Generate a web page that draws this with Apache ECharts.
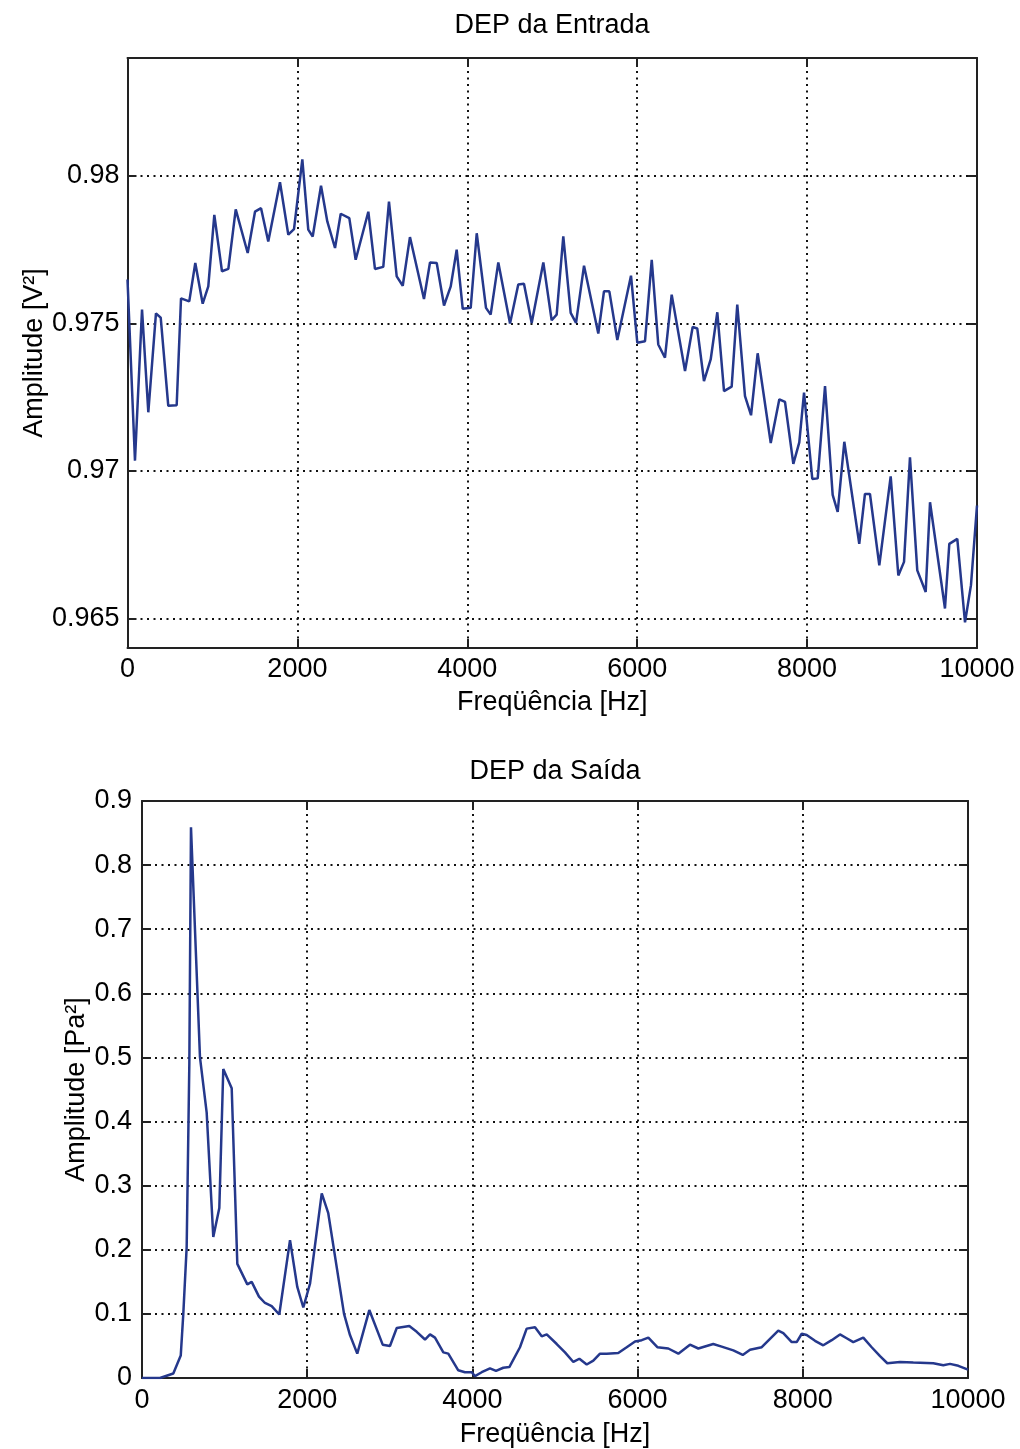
<!DOCTYPE html>
<html>
<head>
<meta charset="utf-8">
<script src="https://cdn.jsdelivr.net/npm/echarts@6/dist/echarts.min.js"></script>
<style>
html,body{margin:0;padding:0;background:#fff;}
#chart{width:1020px;height:1449px;}
</style>
</head>
<body>
<div id="chart"></div>
<script>
// ---- Data ----
const freqTicks = [0, 2000, 4000, 6000, 8000, 10000];
const inYTicks = [0.965, 0.97, 0.975, 0.98];
const outYTicks = [0, 0.1, 0.2, 0.3, 0.4, 0.5, 0.6, 0.7, 0.8, 0.9];

const inFreq = [0, 88, 171, 245, 335, 391, 480, 579, 630, 727, 798, 885, 951, 1022, 1112, 1187, 1274, 1415, 1501, 1572, 1657, 1795, 1893, 1960, 2058, 2128, 2180, 2278, 2352, 2443, 2510, 2611, 2686, 2835, 2913, 3011, 3078, 3169, 3240, 3325, 3490, 3561, 3640, 3726, 3805, 3875, 3946, 4040, 4111, 4220, 4275, 4365, 4503, 4600, 4667, 4758, 4895, 4993, 5052, 5130, 5217, 5280, 5374, 5542, 5609, 5672, 5766, 5927, 6001, 6092, 6171, 6248, 6327, 6406, 6563, 6653, 6707, 6786, 6865, 6943, 7022, 7112, 7178, 7269, 7340, 7418, 7572, 7673, 7740, 7838, 7908, 7964, 8061, 8125, 8211, 8301, 8360, 8438, 8614, 8681, 8740, 8850, 8984, 9074, 9141, 9211, 9297, 9396, 9447, 9623, 9674, 9768, 9859, 9929, 10000];
const inAmp = [0.97649, 0.97035, 0.97547, 0.97199, 0.97534, 0.9752, 0.97221, 0.97223, 0.97585, 0.97575, 0.97705, 0.97567, 0.97626, 0.97868, 0.97677, 0.97685, 0.97887, 0.97739, 0.97879, 0.97891, 0.97778, 0.97979, 0.97801, 0.9782, 0.98056, 0.97818, 0.97795, 0.97967, 0.97846, 0.97756, 0.97872, 0.97857, 0.97716, 0.97879, 0.97685, 0.97692, 0.97913, 0.9766, 0.97628, 0.97793, 0.97583, 0.97707, 0.97705, 0.97561, 0.97626, 0.9775, 0.9755, 0.97553, 0.97806, 0.97553, 0.9753, 0.97707, 0.975, 0.97632, 0.97635, 0.97502, 0.97707, 0.97511, 0.9753, 0.97795, 0.97536, 0.97502, 0.97696, 0.97466, 0.97609, 0.97609, 0.97444, 0.97662, 0.97435, 0.9744, 0.97716, 0.97429, 0.97384, 0.97598, 0.97339, 0.97488, 0.97483, 0.97305, 0.97378, 0.97538, 0.97271, 0.97286, 0.97564, 0.97254, 0.97189, 0.97399, 0.97095, 0.97243, 0.97234, 0.97024, 0.97097, 0.97266, 0.96973, 0.96975, 0.97288, 0.96919, 0.96861, 0.97099, 0.96753, 0.96922, 0.96922, 0.9668, 0.96982, 0.96646, 0.96692, 0.97046, 0.96663, 0.9659, 0.96894, 0.96534, 0.96753, 0.9677, 0.96487, 0.96613, 0.96883];

const outFreq = [0, 218, 379, 469, 500, 541, 573, 593, 702, 783, 863, 936, 984, 1086, 1154, 1275, 1328, 1416, 1489, 1570, 1662, 1792, 1880, 1953, 2034, 2176, 2255, 2446, 2518, 2606, 2752, 2914, 3002, 3084, 3236, 3326, 3426, 3487, 3547, 3648, 3708, 3829, 3910, 3992, 4031, 4113, 4213, 4286, 4374, 4447, 4576, 4657, 4758, 4839, 4900, 5021, 5121, 5222, 5295, 5384, 5464, 5545, 5626, 5766, 5868, 5969, 6050, 6130, 6239, 6372, 6493, 6634, 6735, 6916, 7018, 7159, 7273, 7361, 7503, 7603, 7703, 7764, 7866, 7926, 7987, 8047, 8148, 8248, 8350, 8450, 8531, 8611, 8732, 8834, 8935, 9023, 9177, 9338, 9580, 9701, 9782, 9883, 10000];
const outAmp = [0, 0, 0.007, 0.035, 0.1, 0.205, 0.49, 0.859, 0.5, 0.414, 0.22, 0.265, 0.482, 0.452, 0.178, 0.146, 0.15, 0.127, 0.117, 0.112, 0.099, 0.215, 0.142, 0.11, 0.147, 0.288, 0.257, 0.1, 0.067, 0.038, 0.106, 0.052, 0.05, 0.078, 0.081, 0.072, 0.06, 0.068, 0.063, 0.040, 0.038, 0.012, 0.009, 0.009, 0.003, 0.009, 0.015, 0.011, 0.016, 0.017, 0.048, 0.077, 0.079, 0.065, 0.068, 0.053, 0.040, 0.025, 0.030, 0.021, 0.027, 0.038, 0.038, 0.039, 0.048, 0.057, 0.059, 0.063, 0.048, 0.046, 0.038, 0.052, 0.046, 0.053, 0.049, 0.043, 0.036, 0.044, 0.048, 0.061, 0.074, 0.07, 0.056, 0.056, 0.069, 0.067, 0.058, 0.051, 0.059, 0.068, 0.062, 0.056, 0.063, 0.048, 0.034, 0.023, 0.025, 0.024, 0.023, 0.020, 0.022, 0.019, 0.013];

const titles = ['DEP da Entrada', 'DEP da Saída'];
const xName = 'Freqüência [Hz]';
const yNames = ['Amplitude [V²]', 'Amplitude [Pa²]'];

// ---- Styling ----
const FONT = "'Liberation Sans', Arial, Helvetica, sans-serif";
const FS = 27;
const LINE_COLOR = '#25388c';
const FRAME = { show: true, onZero: false, lineStyle: { color: '#222', width: 2 } };
const GRID_LINE = { show: true, lineStyle: { color: '#111', width: 2, type: [2, 4.5] } };
const TICK_IN = { show: true, inside: true, length: 9, lineStyle: { color: '#222', width: 2 } };
const textStyle = { color: '#000', fontFamily: FONT, fontSize: FS };
const plain = v => String(+v.toFixed(6));

function zip(a, b) { return a.map((v, i) => [v, b[i]]); }

const xRange = { min: freqTicks[0], max: freqTicks[freqTicks.length - 1], interval: freqTicks[1] - freqTicks[0] };

function xAxes(gridIndex, nameGap, labelMargin) {
  return [
    Object.assign({
      type: 'value', gridIndex, position: 'bottom',
      name: xName, nameLocation: 'middle', nameGap, nameMoveOverlap: false,
      nameTextStyle: textStyle,
      axisLine: FRAME, axisTick: TICK_IN, splitLine: GRID_LINE,
      axisLabel: Object.assign({ margin: labelMargin, formatter: plain }, textStyle)
    }, xRange),
    Object.assign({
      type: 'value', gridIndex, position: 'top',
      axisLine: FRAME, axisTick: TICK_IN, splitLine: { show: false },
      axisLabel: { show: false }
    }, xRange)
  ];
}

const option = {
  animation: false,
  backgroundColor: '#fff',
  title: [
    { text: titles[0], left: 552, top: 12, padding: 0, textAlign: 'center',
      textStyle: Object.assign({ fontWeight: 'normal' }, textStyle) },
    { text: titles[1], left: 555, top: 758, padding: 0, textAlign: 'center',
      textStyle: Object.assign({ fontWeight: 'normal' }, textStyle) }
  ],
  grid: [
    { left: 127.5, top: 58, width: 849.5, height: 590, containLabel: false },
    { left: 142, top: 801, width: 826, height: 577, containLabel: false }
  ],
  xAxis: [].concat(xAxes(0, 41, 8), xAxes(1, 43, 9)),
  yAxis: [
    {
      type: 'value', gridIndex: 0, position: 'left', min: 0.964, max: 0.984,
      name: yNames[0], nameLocation: 'middle', nameGap: 79, nameMoveOverlap: false,
      nameTextStyle: textStyle,
      axisLine: FRAME,
      axisTick: Object.assign({ customValues: inYTicks }, TICK_IN),
      splitLine: GRID_LINE,
      axisLabel: Object.assign({ margin: 8, customValues: inYTicks, formatter: plain }, textStyle)
    },
    {
      type: 'value', gridIndex: 0, position: 'right', min: 0.964, max: 0.984,
      axisLine: FRAME,
      axisTick: Object.assign({ customValues: inYTicks }, TICK_IN),
      splitLine: { show: false }, axisLabel: { show: false }
    },
    {
      type: 'value', gridIndex: 1, position: 'left', min: outYTicks[0], max: outYTicks[outYTicks.length - 1], interval: 0.1,
      name: yNames[1], nameLocation: 'middle', nameGap: 52, nameMoveOverlap: false,
      nameTextStyle: textStyle,
      axisLine: FRAME, axisTick: TICK_IN, splitLine: GRID_LINE,
      axisLabel: Object.assign({ margin: 10, formatter: plain }, textStyle)
    },
    {
      type: 'value', gridIndex: 1, position: 'right', min: outYTicks[0], max: outYTicks[outYTicks.length - 1], interval: 0.1,
      axisLine: FRAME, axisTick: TICK_IN, splitLine: { show: false }, axisLabel: { show: false }
    }
  ],
  series: [
    {
      type: 'line', xAxisIndex: 0, yAxisIndex: 0,
      data: zip(inFreq, inAmp), showSymbol: false, symbol: 'none',
      lineStyle: { color: LINE_COLOR, width: 2.5 }, clip: true
    },
    {
      type: 'line', xAxisIndex: 2, yAxisIndex: 2,
      data: zip(outFreq, outAmp), showSymbol: false, symbol: 'none',
      lineStyle: { color: LINE_COLOR, width: 2.5 }, clip: true
    }
  ]
};

const chart = echarts.init(document.getElementById('chart'), null, { renderer: 'canvas' });
chart.setOption(option);
</script>
</body>
</html>
